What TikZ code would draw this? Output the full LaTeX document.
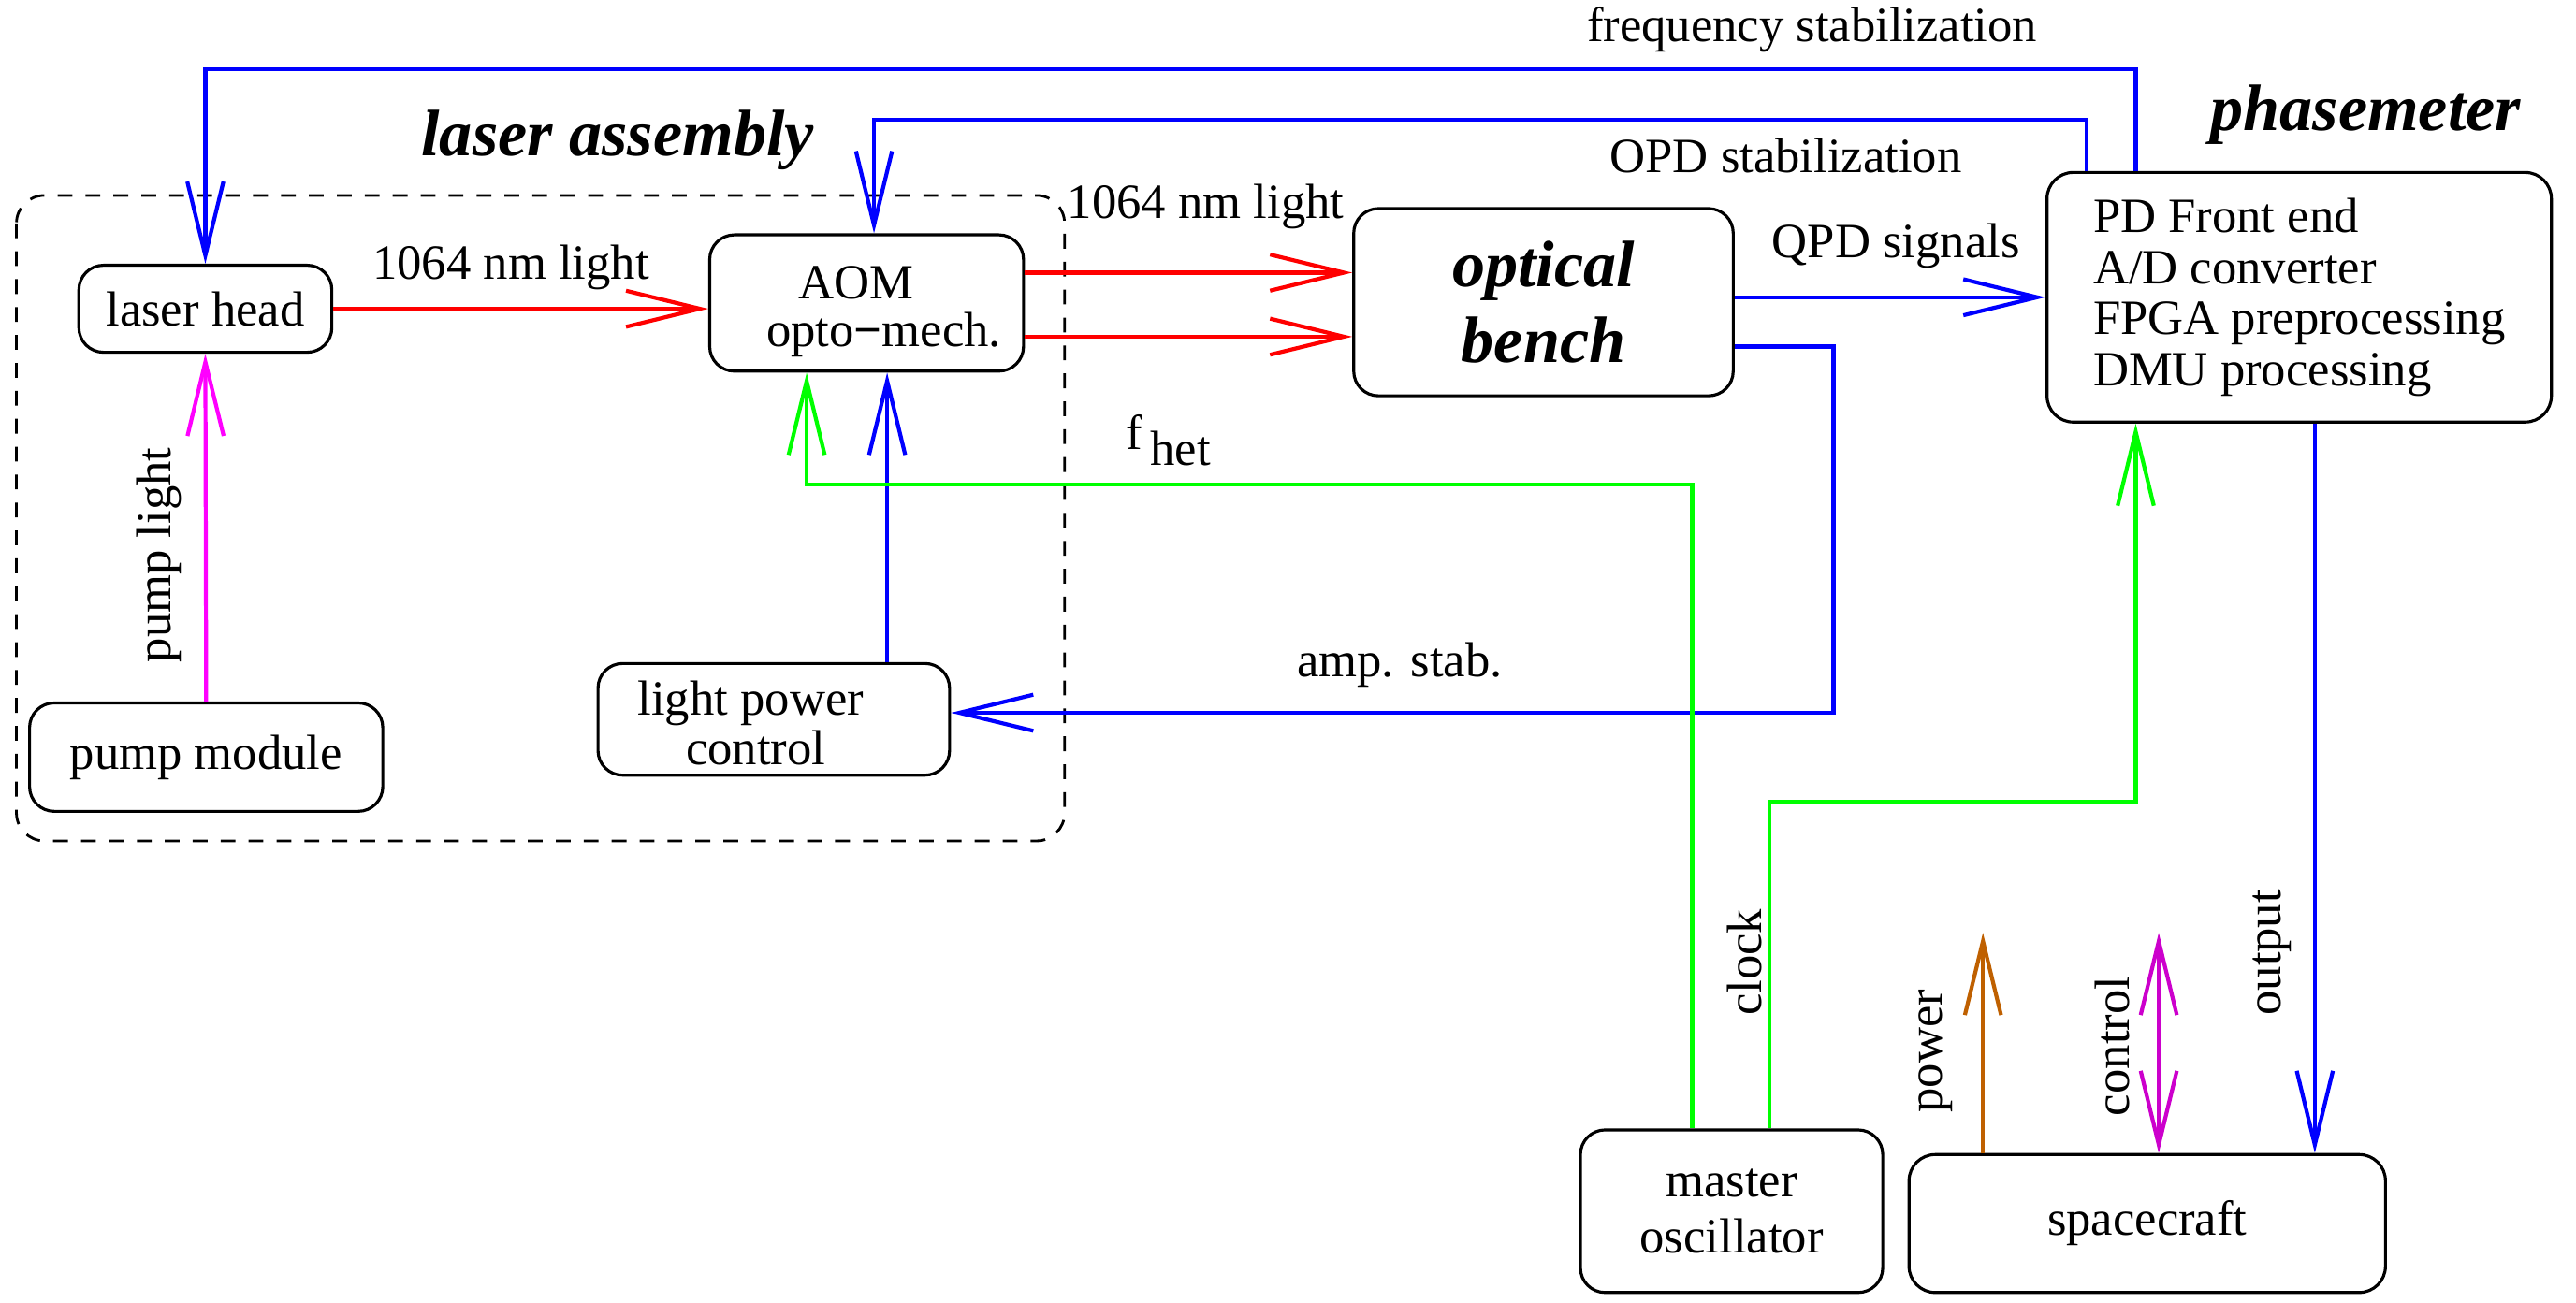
\documentclass[tikz,border=0pt]{standalone}
\usepackage{fontspec}
\setmainfont{Liberation Serif}
\usetikzlibrary{arrows.meta}
\definecolor{pblue}{RGB}{0,0,255}
\definecolor{pred}{RGB}{255,0,0}
\definecolor{pgreen}{RGB}{0,255,0}
\definecolor{pmag}{RGB}{255,0,255}
\definecolor{pctrl}{RGB}{204,0,204}
\definecolor{pbrown}{RGB}{191,96,0}
\tikzset{
  unit/.style={draw=black, line width=0.9pt, rounded corners=7.5pt, inner sep=0pt,
    font=\fontsize{15}{18}\selectfont, align=center},
  big/.style={font=\fontsize{20}{25}\selectfont\bfseries\itshape},
  lbl/.style={font=\fontsize{15}{18}\selectfont, inner sep=0pt},
  vtip/.tip={Straight Barb[length=22.5pt,width=11pt]},
  link/.style={line width=1.2pt, -vtip},
  bilink/.style={line width=1.2pt, vtip-vtip},
}
\begin{document}
\begin{tikzpicture}[x=0.5pt,y=-0.5pt]
\useasboundingbox (0,0) rectangle (1568,793);

% laser assembly enclosure
\draw[dash pattern=on 4.5pt off 4pt, line width=0.8pt, rounded corners=8.5pt]
  (10,119) rectangle (648,512);
\node[big] (tla) at (376,85) {laser assembly};
\node[big] (tpm) at (1440,70) {phasemeter};

% units
\node[unit, minimum width=77pt, minimum height=26.5pt] (lhead) at (125,188) {laser head};
\node[unit, minimum width=95.5pt, minimum height=41.5pt] (aom) at (527.5,184.5)
  {\rule{0pt}{15pt}AOM\hspace*{6.5pt}\\[-3.5pt]\hspace*{10.5pt}opto\textbf{−}mech.};
\node[unit, minimum width=115.5pt, minimum height=57pt, font=\fontsize{20}{23}\selectfont\bfseries\itshape] (bench) at (939.5,184) {optical\\bench};
\node[unit, minimum width=153.5pt, minimum height=76pt, align=left, rounded corners=8pt] (phase) at (1399.5,181)
  {PD Front end\\[-2.5pt]A/D converter\\[-2.5pt]FPGA preprocessing\\[-2.5pt]DMU processing};
\node[unit, minimum width=107.5pt, minimum height=33pt] (pump) at (125.5,461) {pump module};
\node[unit, minimum width=107pt, minimum height=34pt] (lpc) at (471,438)
  {\rule{0pt}{12.5pt}light power\hspace*{14pt}\\[-3pt]control\hspace*{11pt}};
\node[unit, minimum width=92pt, minimum height=49.5pt] (mosc) at (1054,737.5) {master\\[-1pt]oscillator};
\node[unit, minimum width=145pt, minimum height=42pt, rounded corners=8pt] (sc) at (1307,745) {spacecraft};

% routing points
\coordinate (fs) at (1300,42);
\coordinate (opd) at (1270,73);
\coordinate (opdx) at (532,0);
\coordinate (r1) at (0,166);
\coordinate (r2) at (0,205);
\coordinate (qpd) at (0,181);
\coordinate (amp1) at (1116,211);
\coordinate (amp2) at (1116,434);
\coordinate (lpx) at (540,0);
\coordinate (fh1) at (1030,295);
\coordinate (fh2) at (491,295);
\coordinate (ck1) at (1077,488);
\coordinate (ck2) at (1300,488);
\coordinate (outx) at (1409,0);
\coordinate (pw) at (1207,568);
\coordinate (ct) at (1314,568);

% optical paths
\draw[link, pred] (lhead.east) -- (aom.west |- lhead.east);
\draw[link, pred] (aom.east |- r1) -- (bench.west |- r1);
\draw[link, pred] (aom.east |- r2) -- (bench.west |- r2);
\draw[link, pmag] (pump.north) -- (lhead.south);

% control loops
\draw[link, pblue] (fs |- phase.north) -- (fs) -| (lhead.north);
\draw[link, pblue] (opd |- phase.north) -- (opd) -| (opdx |- aom.north);
\draw[link, pblue] (bench.east |- qpd) -- (phase.west |- qpd);
\draw[link, pblue] (bench.east |- amp1) -- (amp1) -- (amp2) -- (lpc.east |- amp2);
\draw[link, pblue] (lpx |- lpc.north) -- (lpx |- aom.south);
\draw[link, pblue] (outx |- phase.south) -- (outx |- sc.north);

% oscillator signals
\draw[link, pgreen] (fh1 |- mosc.north) -- (fh1) -- (fh2) -- (fh2 |- aom.south);
\draw[link, pgreen] (ck1 |- mosc.north) -- (ck1) -- (ck2) -- (ck2 |- phase.south);

% spacecraft interfaces
\draw[link, pbrown] (pw |- sc.north) -- (pw);
\draw[bilink, pctrl] (ct |- sc.north) -- (ct);

% labels
\node[lbl] (l1) at (311,163) {1064 nm light};
\node[lbl] (l2) at (734,126) {1064 nm light};
\node[lbl] (l3) at (1154,150) {QPD signals};
\node[lbl] (l4) at (1103,18) {frequency stabilization};
\node[lbl] (l5) at (1087,95) {OPD stabilization};
\node[lbl] (l6) at (852,405) {amp. stab.};
\node[lbl] (l7) at (711,268) {f\raisebox{-0.32em}{\,het}};
\node[lbl, rotate=90] (l8) at (97,338) {pump light};
\node[lbl, rotate=90] (l9) at (1062,586) {clock};
\node[lbl, rotate=90] (l10) at (1178,640) {power};
\node[lbl, rotate=90] (l11) at (1286,637) {control};
\node[lbl, rotate=90] (l12) at (1383,580) {output};
\end{tikzpicture}
\end{document}
